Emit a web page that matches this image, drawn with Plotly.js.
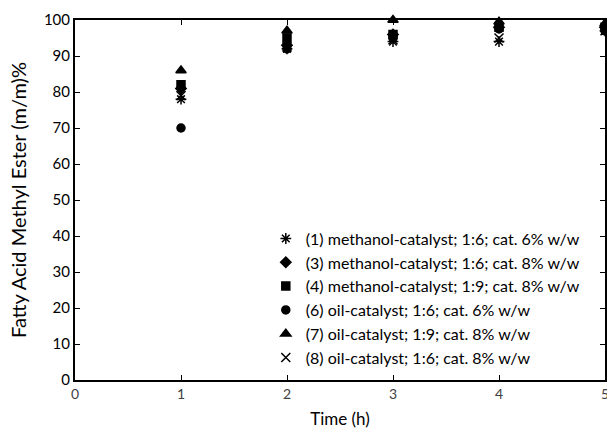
<!DOCTYPE html>
<html>
<head>
<meta charset="utf-8">
<script src="https://cdn.plot.ly/plotly-3.0.1.min.js"></script>
<style>html,body{margin:0;padding:0;background:#fff;}#chart{width:607px;height:433px;}</style>
</head>
<body>
<div id="chart"></div>
<script>
const time = [1, 2, 3, 4, 5];
const s1 = [78, 92, 94, 94, 97];     // (1) methanol-catalyst; 1:6; cat. 6% w/w
const s3 = [81, 93, 96, 98, 98];     // (3) methanol-catalyst; 1:6; cat. 8% w/w
const s4 = [82, 95, 96, 98, 98];     // (4) methanol-catalyst; 1:9; cat. 8% w/w
const s6 = [70, 92, 95, 97.5, 97];   // (6) oil-catalyst; 1:6; cat. 6% w/w
const s7 = [86, 97, 100, 99.5, 99];  // (7) oil-catalyst; 1:9; cat. 8% w/w
const s8 = [79, 92.5, 94.5, 95, 97]; // (8) oil-catalyst; 1:6; cat. 8% w/w
const names = [
  "(1) methanol-catalyst; 1:6; cat. 6% w/w",
  "(3) methanol-catalyst; 1:6; cat. 8% w/w",
  "(4) methanol-catalyst; 1:9; cat. 8% w/w",
  "(6) oil-catalyst; 1:6; cat. 6% w/w",
  "(7) oil-catalyst; 1:9; cat. 8% w/w",
  "(8) oil-catalyst; 1:6; cat. 8% w/w"
];
const xTicks = [0, 1, 2, 3, 4, 5];
const yTicks = [0, 10, 20, 30, 40, 50, 60, 70, 80, 90, 100];

const series = [s1, s3, s4, s6, s7, s8];
const symbols = ["asterisk-open", "diamond", "square", "circle", "triangle-up", "x-thin-open"];
const sizes = [9, 8, 8, 8, 9, 9];

const traces = series.map((ys, i) => ({
  x: time, y: ys, name: names[i], type: "scatter", mode: "markers",
  cliponaxis: false,
  marker: {symbol: symbols[i], size: sizes[i], color: "#000000", line: {color: "#000000", width: 1.5}}
}));

const fam = "Lato, sans-serif";
const layout = {
  width: 607, height: 433,
  margin: {l: 75, r: 2, t: 20, b: 53},
  paper_bgcolor: "#ffffff", plot_bgcolor: "#ffffff",
  font: {family: fam, size: 14, color: "#404040"},
  showlegend: true,
  legend: {x: 0.36, y: 0.44, xanchor: "left", yanchor: "top", bgcolor: "rgba(0,0,0,0)",
           font: {family: fam, size: 16, color: "#000000"}, itemwidth: 30, tracegroupgap: 0},
  xaxis: {range: [0, 5], tickvals: xTicks, ticktext: xTicks.map(String), ticks: "inside", ticklen: 5,
          tickcolor: "#000", showline: true, linecolor: "#000", linewidth: 2, mirror: "ticks",
          ticklabeloverflow: "allow",
          showgrid: false, zeroline: false, title: {text: "Time (h)", font: {family: fam, size: 17, color: "#000"}, standoff: 12},
          tickfont: {family: fam, size: 14, color: "#404040"}},
  yaxis: {range: [0, 100], tickvals: yTicks, ticktext: yTicks.map(String), ticks: "inside", ticklen: 5,
          tickcolor: "#000", showline: true, linecolor: "#000", linewidth: 2, mirror: "ticks",
          showgrid: false, zeroline: false, title: {text: "Fatty Acid Methyl Ester (m/m)%", font: {family: fam, size: 20, color: "#000"}, standoff: 12},
          tickfont: {family: fam, size: 15, color: "#000"}}
};
Plotly.newPlot("chart", traces, layout, {displayModeBar: false, staticPlot: true});
</script>
</body>
</html>
